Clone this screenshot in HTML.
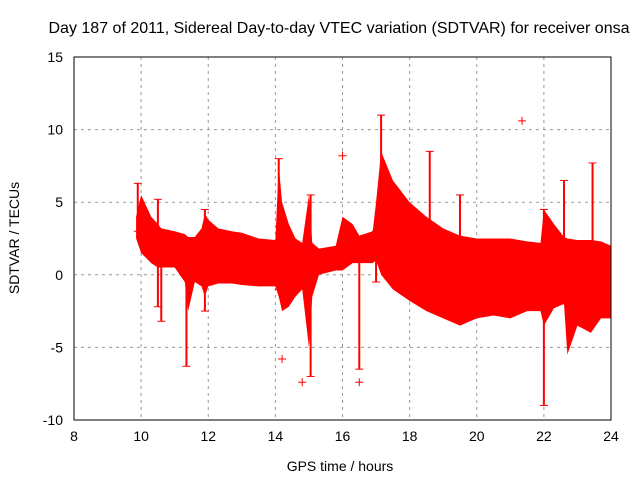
<!DOCTYPE html>
<html><head><meta charset="utf-8"><style>
body{margin:0;background:#fff;}
svg text{font-family:"Liberation Sans",sans-serif;font-size:14px;fill:#000;}
</style></head><body>
<svg id="chart" width="640" height="480" xmlns="http://www.w3.org/2000/svg">
<rect width="640" height="480" fill="#fff"/>
<text x="339" y="33" text-anchor="middle" style="font-size:16px">Day 187 of 2011, Sidereal Day-to-day VTEC variation (SDTVAR) for receiver onsa</text>
<text x="340" y="471" text-anchor="middle">GPS time / hours</text>
<text transform="translate(19,238) rotate(-90)" text-anchor="middle">SDTVAR / TECUs</text>
<g id="grid"></g><g id="data"></g><g id="axes"></g>
</svg>
<script>
const xTicks=[8,10,12,14,16,18,20,22,24];
const yTicks=[-10,-5,0,5,10,15];
const hours=[9.85,10.0,10.3,10.5,10.6,11.0,11.3,11.4,11.6,11.8,11.9,12.0,12.3,12.7,13.0,13.5,14.0,14.1,14.2,14.4,14.6,14.8,15.0,15.1,15.3,15.8,16.0,16.3,16.5,16.9,17.0,17.15,17.5,18.0,18.5,19.0,19.5,20.0,20.5,21.0,21.5,21.9,22.0,22.3,22.6,22.7,23.0,23.4,23.7,24.0];
const upper=[4,5.5,4,3.5,3.2,3,2.8,2.6,2.6,3.2,4.2,3.8,3.2,3,2.9,2.5,2.4,7.5,5,3.5,2.5,2.2,5.5,2.2,1.8,2,4,3.5,2.7,3,5,8.5,6.5,5,4,3.2,2.7,2.5,2.5,2.5,2.3,2.2,4.5,3.5,2.6,2.5,2.4,2.4,2.3,2];
const lower=[2.5,1.5,0.8,0.5,0.5,0.5,-0.5,-2.5,-0.5,-0.8,-1.5,-0.8,-0.6,-0.6,-0.7,-0.8,-0.8,-1.5,-2.5,-2.2,-1.5,-1,-5,-1.5,0,0.3,0.3,0.8,0.8,0.8,1,0,-1,-1.8,-2.5,-3,-3.5,-3,-2.8,-3,-2.5,-2.5,-3.5,-2.3,-2,-5.5,-3.5,-4,-3,-3];
const spikeHours=[9.9,10.5,10.6,11.35,11.9,14.1,15.05,16.5,17.15,17.0,18.6,19.5,22.0,22.6,23.45];
const spikeTop=[6.3,5.2,3,2,4.5,8,5.5,2,11,3,8.5,5.5,4.5,6.5,7.7];
const spikeBottom=[3,-2.2,-3.2,-6.3,-2.5,-1,-7,-6.5,1,-0.5,1,0,-9,-2,-3];
const pointHours=[14.2,14.8,16.0,16.5,21.35];
const pointVals=[-5.8,-7.4,8.2,-7.4,10.6];
const X0=74,X1=611,Y0=57,Y1=420;
const sx=h=>X0+(h-8)/16*(X1-X0);
const sy=v=>Y1-(v+10)/25*(Y1-Y0);
const NS="http://www.w3.org/2000/svg";
function mk(tag,attrs,parent){const e=document.createElementNS(NS,tag);for(const k in attrs)e.setAttribute(k,attrs[k]);document.getElementById(parent).appendChild(e);return e;}
xTicks.forEach(t=>{const x=sx(t);
 if(t>8&&t<24){const g=mk('line',{x1:x,x2:x,y1:Y0,y2:Y1,stroke:'#999','stroke-dasharray':'3,4'},'grid');
 
 }
 const l=mk('text',{x:x,y:441,'text-anchor':'middle'},'axes');l.textContent=t;
 
 
});
yTicks.forEach(t=>{const y=sy(t);
 if(t>-10&&t<15){const g=mk('line',{x1:X0,x2:X1,y1:y,y2:y,stroke:'#999','stroke-dasharray':'3,4'},'grid');
 
 }
 const l=mk('text',{x:63,y:y+5,'text-anchor':'end'},'axes');l.textContent=t;
 
 
});
let pts=hours.map((h,i)=>sx(h)+','+sy(upper[i]));
for(let i=hours.length-1;i>=0;i--)pts.push(sx(hours[i])+','+sy(lower[i]));
const band=mk('polygon',{points:pts.join(' '),fill:'#f00'},'data');


spikeHours.forEach((h,i)=>{const x=sx(h);
 const s=mk('line',{x1:x,x2:x,y1:sy(spikeTop[i]),y2:sy(spikeBottom[i]),stroke:'#f00','stroke-width':2},'data');
 
 
 [spikeTop[i],spikeBottom[i]].forEach(v=>{const c=mk('line',{x1:x-4,x2:x+4,y1:sy(v),y2:sy(v),stroke:'#f00'},'data');
 
 });
});
pointHours.forEach((h,i)=>{const x=sx(h),y=sy(pointVals[i]);
 const p=mk('path',{d:`M${x-4},${y}H${x+4}M${x},${y-4}V${y+4}`,stroke:'#f00'},'data');
 
 
});
const f=mk('rect',{x:X0,y:Y0,width:X1-X0,height:Y1-Y0,fill:'none',stroke:'#000'},'axes');


</script>
</body></html>
